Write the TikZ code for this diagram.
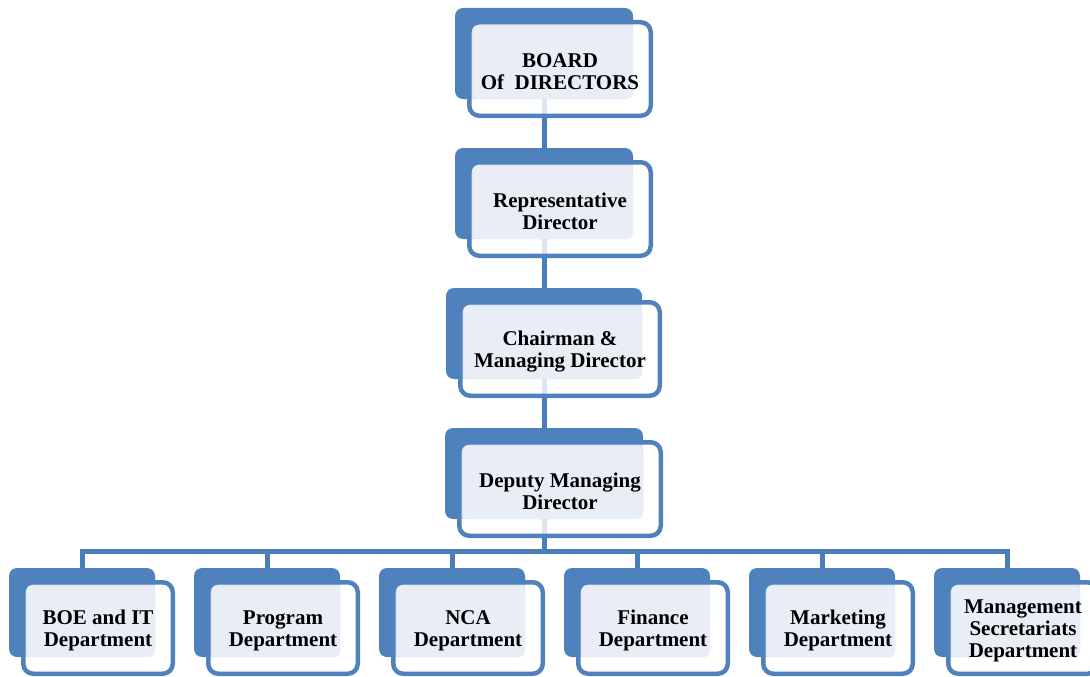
\documentclass[tikz,border=0pt]{standalone}
\usepackage{fontspec}
\setmainfont{Liberation Serif}
\definecolor{obl}{HTML}{4F81BD}
\definecolor{cbl}{HTML}{4A7EBB}
\definecolor{lfill}{HTML}{E9EEF6}
\pgfdeclarelayer{bg}
\pgfsetlayers{bg,main}
\tikzset{
  backbox/.style={fill=obl, draw=none, rounded corners=8pt, inner sep=0pt, outer sep=0pt},
  frontbox/.style={fill=white, fill opacity=0.8, draw=obl, draw opacity=1, line width=4.5pt, rounded corners=10pt, inner sep=0pt, outer sep=0pt},
  lightbox/.style={fill=lfill, rounded corners=5pt},
  boxtext/.style={align=center, inner sep=0pt, font=\fontsize{21}{22}\selectfont\bfseries, text=black},
  conn/.style={draw=cbl, line width=5pt}
}
% #1 id, #2 L, #3 T, #4 R, #5 B (outer edges of front box), #6 text
\newcommand\orgbox[6]{%
  \pgfmathsetmacro\bL{#2-12}\pgfmathsetmacro\bT{#3-12}%
  \pgfmathsetmacro\bR{#4-20}\pgfmathsetmacro\bB{#5-19}%
  \pgfmathsetmacro\bW{\bR-\bL}\pgfmathsetmacro\bH{\bB-\bT}%
  \pgfmathsetmacro\bX{(\bL+\bR)/2}\pgfmathsetmacro\bY{(\bT+\bB)/2}%
  \pgfmathsetmacro\fW{#4-#2-4.5}\pgfmathsetmacro\fH{#5-#3-4.5}%
  \pgfmathsetmacro\fX{(#2+#4)/2}\pgfmathsetmacro\fY{(#3+#5)/2}%
  \pgfmathsetmacro\tY{\fY+2.5}%
  \pgfmathsetmacro\lL{#2+5.5}\pgfmathsetmacro\lT{#3+5.5}%
  \node[backbox, minimum width=\bW pt, minimum height=\bH pt] (b#1) at (\bX,\bY) {};
  \node[frontbox, minimum width=\fW pt, minimum height=\fH pt] (f#1) at (\fX,\fY) {};
  \fill[lightbox] (\lL,\lT) rectangle (\bR,\bB);
  \node[boxtext] (t#1) at (\fX,\tY) {#6};
}
\begin{document}
\begin{tikzpicture}[x=1pt,y=-1pt]
\useasboundingbox (0,0) rectangle (1090,677);
\orgbox{1}{467}{20}{653}{118}{BOARD\\Of~\ DIRECTORS}
\orgbox{2}{467}{160}{653}{258}{Representative\\Director}
\orgbox{3}{458}{300}{662}{398}{Chairman \&\\Managing Director}
\orgbox{4}{457}{440}{663}{538}{Deputy Managing\\Director}
\orgbox{5}{21}{580}{175}{676}{BOE and IT\\Department}
\orgbox{6}{206}{580}{360}{676}{Program\\Department}
\orgbox{7}{391}{580}{545}{676}{NCA\\Department}
\orgbox{8}{576}{580}{730}{676}{Finance\\Department}
\orgbox{9}{761}{580}{915}{676}{Marketing\\Department}
\orgbox{10}{946}{580}{1100}{676}{Management\\Secretariats\\Department}
\coordinate (bar) at (544,551.5);
\begin{pgfonlayer}{bg}
  \draw[conn] (b1.south) -- (b2.north);
  \draw[conn] (b2.south) -- (b3.north);
  \draw[conn] (b3.south) -- (b4.north);
  \draw[conn] (b4.south) -- (bar);
  \foreach \i in {5,...,10} {\draw[conn] (bar) -| (b\i.north);}
\end{pgfonlayer}
\end{tikzpicture}
\end{document}
